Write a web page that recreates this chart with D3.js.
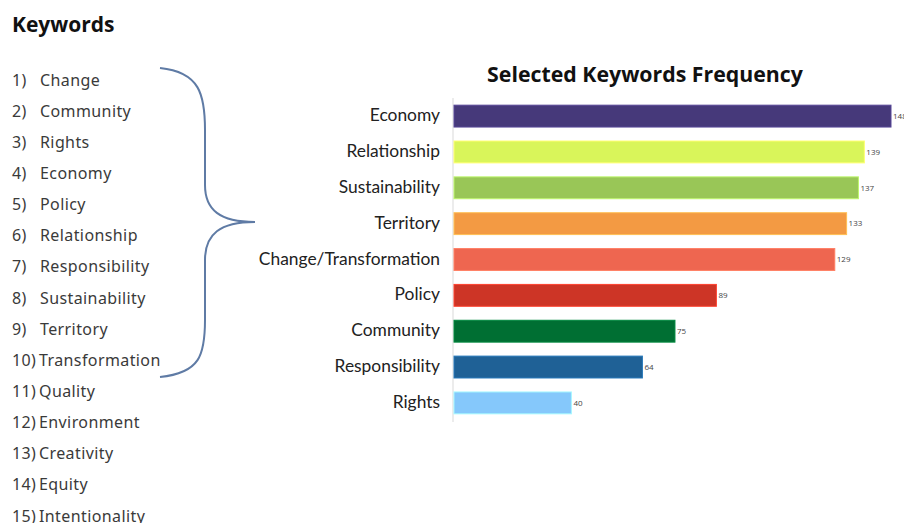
<!DOCTYPE html>
<html>
<head>
<meta charset="utf-8">
<script src="https://cdn.jsdelivr.net/npm/d3@7"></script>
<style>
  body { margin: 0; background: #fff; }
  svg { display: block; }
</style>
</head>
<body>
<div id="chart"></div>
<script>
// keyword list on the left
const keywordList = ["Change", "Community", "Rights", "Economy", "Policy", "Relationship",
  "Responsibility", "Sustainability", "Territory", "Transformation", "Quality",
  "Environment", "Creativity", "Equity", "Intentionality"];

// bar chart data
const categories = ["Economy", "Relationship", "Sustainability", "Territory",
  "Change/Transformation", "Policy", "Community", "Responsibility", "Rights"];
const frequency = [148, 139, 137, 133, 129, 89, 75, 64, 40];
const barColors = ["#46397a", "#d9f55a", "#99c657", "#f39a43", "#ee6650",
  "#cd3526", "#006f33", "#1f6196", "#85c8fb"];

const width = 904, height = 523;
const svg = d3.select("#chart").append("svg")
    .attr("width", width)
    .attr("height", height);

// left title + list
svg.append("text")
    .attr("x", 12).attr("y", 32)
    .attr("font-family", "Open Sans, sans-serif")
    .attr("font-weight", "bold")
    .attr("font-size", 21)
    .attr("fill", "#111")
    .text("Keywords");

const listY = d3.scalePoint()
    .domain(d3.range(keywordList.length))
    .range([80, 516]);

const items = svg.selectAll("g.item")
    .data(keywordList)
    .enter().append("g")
    .attr("class", "item")
    .attr("transform", (d, i) => `translate(0,${listY(i)})`)
    .attr("font-family", "Noto Sans, sans-serif")
    .attr("font-size", 16)
    .attr("letter-spacing", 0.4)
    .attr("fill", "#3a3a3a");

items.append("text")
    .attr("x", 12).attr("dy", "0.35em")
    .text((d, i) => (i + 1) + ")");

items.append("text")
    .attr("x", (d, i) => i < 9 ? 40 : 39)
    .attr("dy", "0.35em")
    .text(d => d);

// curly brace
svg.append("path")
    .attr("d", "M160,68 C200,72 205,95 205,130 L205,185 C205,210 220,222 255,222 " +
               "C220,222 205,234 205,260 L205,320 C205,355 200,373 160,377")
    .attr("fill", "none")
    .attr("stroke", "#5f7ba5")
    .attr("stroke-width", 2);

// bar chart
svg.append("text")
    .attr("x", 645).attr("y", 82)
    .attr("text-anchor", "middle")
    .attr("font-family", "Open Sans, sans-serif")
    .attr("font-weight", "bold")
    .attr("font-size", 21.3)
    .attr("fill", "#111")
    .text("Selected Keywords Frequency");

const x = d3.scaleLinear()
    .domain([0, 148])
    .range([453, 891]);

const y = d3.scaleBand()
    .domain(categories)
    .range([98, 421])
    .paddingInner(0.39)
    .paddingOuter(0.2);

svg.append("line")
    .attr("x1", 453).attr("x2", 453)
    .attr("y1", 98).attr("y2", 422)
    .attr("stroke", "#d9d9d9")
    .attr("stroke-width", 1);

svg.selectAll("rect.bar")
    .data(categories)
    .enter().append("rect")
    .attr("class", "bar")
    .attr("x", x(0) + 1)
    .attr("y", d => y(d))
    .attr("width", (d, i) => x(frequency[i]) - x(0) - 1)
    .attr("height", y.bandwidth())
    .attr("fill", (d, i) => barColors[i])
    .attr("stroke", (d, i) => d3.color(barColors[i]).brighter(0.6))
    .attr("stroke-width", 1);

svg.selectAll("text.val")
    .data(categories)
    .enter().append("text")
    .attr("class", "val")
    .attr("x", (d, i) => x(frequency[i]) + 2)
    .attr("y", d => y(d) + y.bandwidth() / 2)
    .attr("dy", "0.35em")
    .attr("font-family", "Open Sans, sans-serif")
    .attr("font-size", 8)
    .attr("fill", "#444")
    .text((d, i) => frequency[i]);

svg.selectAll("text.cat")
    .data(categories)
    .enter().append("text")
    .attr("class", "cat")
    .attr("x", 440)
    .attr("y", d => y(d) + y.bandwidth() / 2 - 1)
    .attr("dy", "0.35em")
    .attr("text-anchor", "end")
    .attr("font-family", "Lato, sans-serif")
    .attr("font-size", 17.4)
    .attr("fill", "#222")
    .text(d => d);
</script>
</body>
</html>
